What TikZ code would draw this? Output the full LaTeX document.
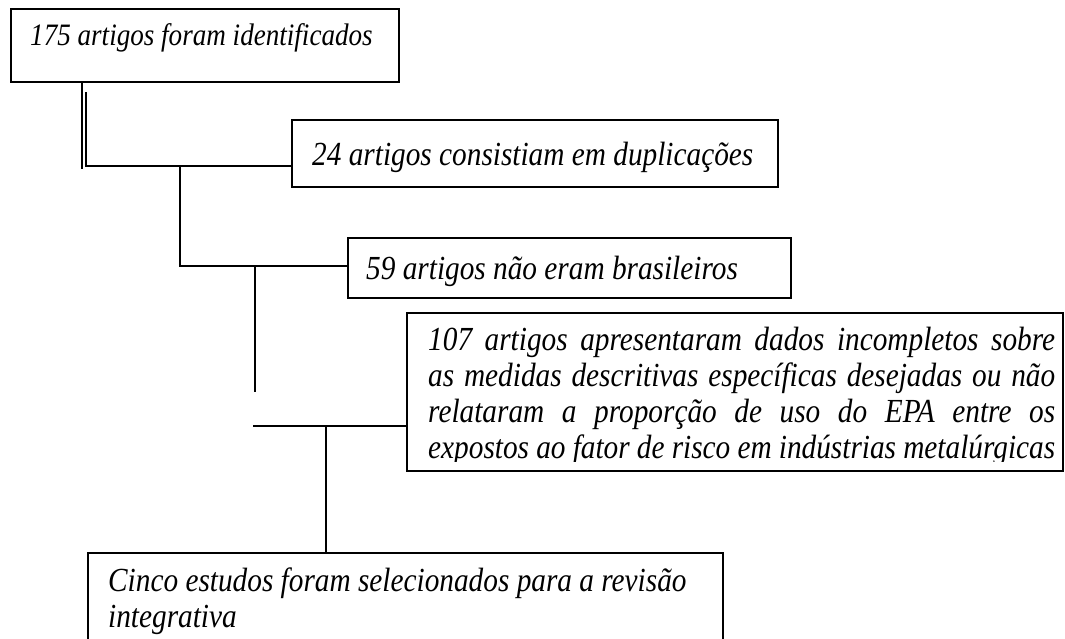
\documentclass[tikz,border=0pt]{standalone}
\usepackage{fontspec}
\usepackage{graphicx}
\setmainfont{Liberation Serif}
\usetikzlibrary{positioning, calc}

\newcommand{\vstretch}[1]{\scalebox{1}[1.15]{#1}}

\tikzset{
  box/.style={draw, line width=1.5pt, anchor=north west, inner sep=0pt},
  txt/.style={anchor=base west, inner sep=0pt, font=\fontsize{29.3}{36}\selectfont\itshape},
  link/.style={draw, line width=1.1pt}
}

\begin{document}
\begin{tikzpicture}[x=1pt, y=-1pt]
  \useasboundingbox (0,0) rectangle (1065,638);

  % Boxes
  \node[box, minimum width=388pt, minimum height=73pt] (found) at (10,8) {};
  \node[box, minimum width=486pt, minimum height=67pt] (dup) at (291,119) {};
  \node[box, minimum width=443pt, minimum height=60pt] (foreign) at (347,237) {};
  \node[box, minimum width=656pt, minimum height=158pt] (incomplete) at (406,312) {};
  \node[box, minimum width=635pt, minimum height=110pt] (selected) at (87,552) {};

  % Texts
  \node[txt, font=\fontsize{27.1}{33}\selectfont\itshape] (foundtxt) at (30,45) {\vstretch{175 artigos foram identificados}};
  \node[txt] (duptxt) at (312,165) {\vstretch{24 artigos consistiam em duplicações}};
  \node[txt] (foreigntxt) at (366,279) {\vstretch{59 artigos não eram brasileiros}};
  \begin{scope}
    \clip (incomplete.north west) rectangle ($(incomplete.south east)+(0,-10)$);
    \foreach \ln [count=\i from 0] in {
        {107 artigos apresentaram dados incompletos sobre},
        {as medidas descritivas específicas desejadas ou não},
        {relataram a proporção de uso do EPA entre os},
        {expostos ao fator de risco em indústrias metalúrgicas}}
      \node[txt] (incline\i) at (428,350+36*\i) {\vstretch{\makebox[627pt][s]{\ln}}};
  \end{scope}
  \node[txt] (selline0) at (108,591) {\vstretch{Cinco estudos foram selecionados para a revisão}};
  \node[txt] (selline1) at (108,627) {\vstretch{integrativa}};

  % Connectors
  \coordinate (leftA) at (82,169);
  \coordinate (leftB) at (86,92);
  \coordinate (j1) at (86,166);
  \draw[link] (found.south -| leftA) -- (leftA);
  \draw[link] (leftB) -- (j1) -- (dup.west |- j1);
  \coordinate (j2) at (180,166);
  \coordinate (j3) at (180,266);
  \draw[link] (j2) -- (j3) -- (foreign.west |- j3);
  \coordinate (j4) at (255,266);
  \coordinate (j5) at (255,392);
  \draw[link] (j4) -- (j5);
  \coordinate (j6) at (253,426);
  \draw[link] (j6) -- (incomplete.west |- j6);
  \coordinate (j7) at (326,426);
  \draw[link] (j7) -- (j7 |- selected.north);
\end{tikzpicture}
\end{document}
